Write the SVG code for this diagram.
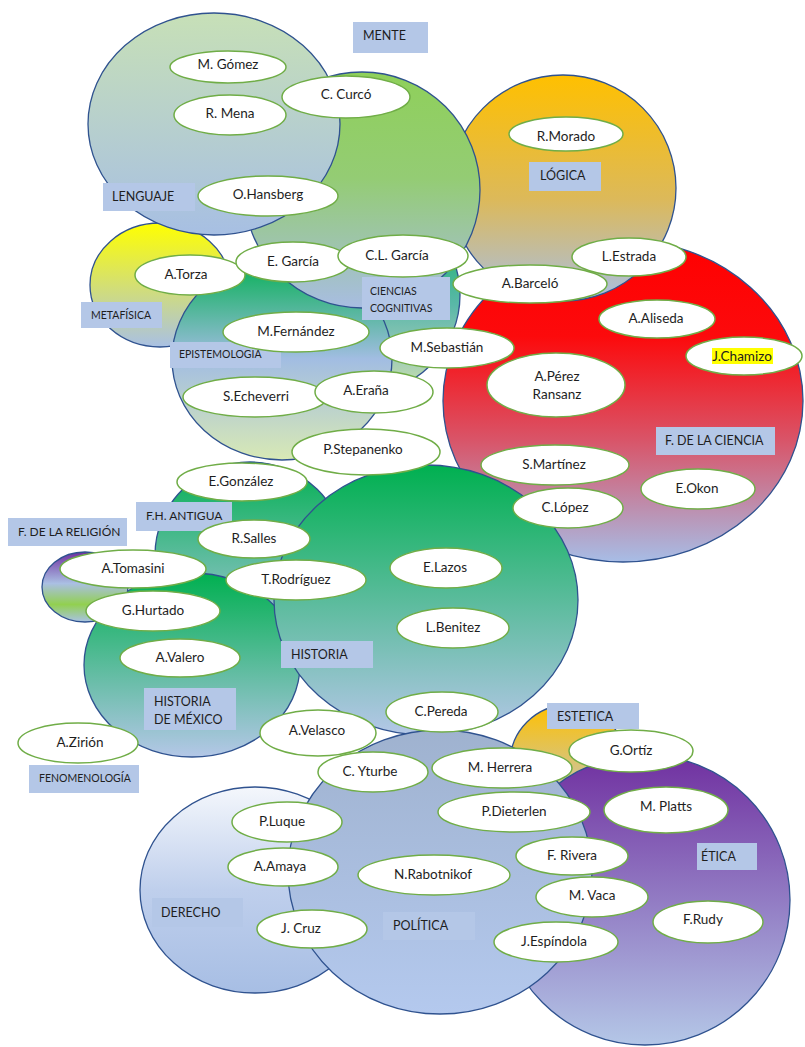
<svg xmlns="http://www.w3.org/2000/svg" width="805" height="1047" viewBox="0 0 805 1047">
<defs>
<linearGradient id="gLeng" x1="0" y1="0" x2="0" y2="1"><stop offset="0" stop-color="#c7e0b7"/><stop offset="1" stop-color="#a7bfe3"/></linearGradient>
<linearGradient id="gMente" x1="0" y1="0" x2="0" y2="1"><stop offset="0" stop-color="#8fd05a"/><stop offset="0.45" stop-color="#94cc74"/><stop offset="1" stop-color="#a8bde2"/></linearGradient>
<linearGradient id="gLog" x1="0" y1="0" x2="0" y2="1"><stop offset="0" stop-color="#ffc000"/><stop offset="0.55" stop-color="#dcb95a"/><stop offset="1" stop-color="#a9bfe2"/></linearGradient>
<linearGradient id="gCien" x1="0" y1="0" x2="0" y2="1"><stop offset="0" stop-color="#ff0000"/><stop offset="0.3" stop-color="#fc0a0c"/><stop offset="0.62" stop-color="#d95468"/><stop offset="1" stop-color="#a7bde6"/></linearGradient>
<linearGradient id="gMeta" x1="0" y1="0" x2="0" y2="1"><stop offset="0" stop-color="#ffff00"/><stop offset="1" stop-color="#a9c0e4"/></linearGradient>
<linearGradient id="gEpi" x1="0" y1="0" x2="0" y2="1"><stop offset="0" stop-color="#00b050"/><stop offset="0.5" stop-color="#a2bde2"/><stop offset="1" stop-color="#d8e9b5"/></linearGradient>
<linearGradient id="gCC" x1="0" y1="0" x2="0" y2="1"><stop offset="0" stop-color="#00b050"/><stop offset="0.55" stop-color="#5ab8a8"/><stop offset="0.8" stop-color="#9cc9b8"/><stop offset="1" stop-color="#cfe6a8"/></linearGradient>
<linearGradient id="gGB" x1="0" y1="0" x2="0" y2="1"><stop offset="0" stop-color="#00b050"/><stop offset="1" stop-color="#b4c7e7"/></linearGradient>
<linearGradient id="gRel" x1="0" y1="0" x2="0" y2="1"><stop offset="0" stop-color="#7030a0"/><stop offset="0.45" stop-color="#aabfe3"/><stop offset="0.75" stop-color="#92d050"/><stop offset="1" stop-color="#a9c2e6"/></linearGradient>
<linearGradient id="gEst" x1="0" y1="0" x2="0" y2="1"><stop offset="0" stop-color="#ffc000"/><stop offset="1" stop-color="#b4c7e7"/></linearGradient>
<linearGradient id="gEtica" x1="0" y1="0" x2="0" y2="1"><stop offset="0" stop-color="#7030a0"/><stop offset="1" stop-color="#b4c7e7"/></linearGradient>
<linearGradient id="gPol" x1="0" y1="0" x2="0" y2="1"><stop offset="0" stop-color="#9fb2cf"/><stop offset="1" stop-color="#b4c9ee"/></linearGradient>
<linearGradient id="gDer" x1="0" y1="0" x2="0" y2="1"><stop offset="0" stop-color="#f4f7fc"/><stop offset="0.5" stop-color="#bfcfec"/><stop offset="1" stop-color="#a7bee4"/></linearGradient>
<style>
.area{stroke:#2f528f;stroke-width:1.3}
.node ellipse{fill:#ffffff;stroke:#70ad47;stroke-width:1.5}
.nt{font-family:Lato,"Liberation Sans",sans-serif;font-size:13.5px;fill:#1e1e1e;text-anchor:middle}
.lab rect{fill:#b4c7e7}
.lt{font-family:Lato,"Liberation Sans",sans-serif;font-size:12.5px;fill:#1e1e1e}
.sm{font-size:10.5px}
.md{font-size:12px}
</style>
</defs>
<rect width="805" height="1047" fill="#ffffff"/>

<g id="areas">
  <ellipse id="a-cc" class="area" cx="358" cy="295" rx="102" ry="100" fill="url(#gCC)"/>
  <ellipse id="a-ciencia" class="area" cx="623" cy="401" rx="180" ry="161" fill="url(#gCien)"/>
  <ellipse id="a-logica" class="area" cx="563" cy="188" rx="113" ry="113" fill="url(#gLog)"/>
  <ellipse id="a-metafisica" class="area" cx="160" cy="285" rx="70" ry="62" fill="url(#gMeta)"/>
  <ellipse id="a-epistemologia" class="area" cx="282" cy="359" rx="110" ry="101" fill="url(#gEpi)"/>
  <ellipse id="a-mente" class="area" cx="362" cy="190" rx="118" ry="118" fill="url(#gMente)"/>
  <ellipse id="a-lenguaje" class="area" cx="214" cy="124" rx="126" ry="111" fill="url(#gLeng)"/>
  <ellipse id="a-fhantigua" class="area" cx="250" cy="555" rx="95" ry="93" fill="url(#gGB)"/>
  <ellipse id="a-hmexico" class="area" cx="192" cy="665" rx="108" ry="92" fill="url(#gGB)"/>
  <ellipse id="a-historia" class="area" cx="426" cy="600" rx="152" ry="135" fill="url(#gGB)"/>
  <ellipse id="a-religion" class="area" cx="85" cy="587" rx="43" ry="35" fill="url(#gRel)"/>
  <ellipse id="a-estetica" class="area" cx="568" cy="763" rx="58" ry="58" fill="url(#gEst)"/>
  <ellipse id="a-etica" class="area" cx="645" cy="900" rx="145" ry="145" fill="url(#gEtica)"/>
  <ellipse id="a-derecho" class="area" cx="255" cy="890" rx="115" ry="103" fill="url(#gDer)"/>
  <ellipse id="a-politica" class="area" cx="440" cy="872" rx="152" ry="142" fill="url(#gPol)"/>
</g>

<g id="labels">
  <g id="l-mente" class="lab"><rect x="353" y="22" width="75" height="31"/><text class="lt" x="363" y="40">MENTE</text></g>
  <g id="l-lenguaje" class="lab"><rect x="103" y="183" width="92" height="28"/><text class="lt" x="112" y="201">LENGUAJE</text></g>
  <g id="l-logica" class="lab"><rect x="529" y="162" width="72" height="29"/><text class="lt" x="540" y="180">LÓGICA</text></g>
  <g id="l-metafisica" class="lab"><rect x="81" y="302" width="81" height="26"/><text class="lt sm" x="91" y="319">METAFÍSICA</text></g>
  <g id="l-cc" class="lab"><rect x="362" y="277" width="88" height="43"/><text class="lt sm" x="370" y="295">CIENCIAS</text><text class="lt sm" x="370" y="312">COGNITIVAS</text></g>
  <g id="l-epistemologia" class="lab"><rect x="170" y="342" width="111" height="26"/><text class="lt sm" x="179" y="358">EPISTEMOLOGÍA</text></g>
  <g id="l-ciencia" class="lab"><rect x="656" y="427" width="119" height="28"/><text class="lt" x="665" y="445">F. DE LA CIENCIA</text></g>
  <g id="l-fhantigua" class="lab"><rect x="136" y="502" width="96" height="29"/><text class="lt md" x="146" y="520">F.H. ANTIGUA</text></g>
  <g id="l-religion" class="lab"><rect x="8" y="518" width="119" height="28"/><text class="lt md" x="18" y="536">F. DE LA RELIGIÓN</text></g>
  <g id="l-historia" class="lab"><rect x="281" y="641" width="92" height="27"/><text class="lt" x="291" y="659">HISTORIA</text></g>
  <g id="l-hmexico" class="lab"><rect x="144" y="688" width="92" height="42"/><text class="lt" x="154" y="706">HISTORIA</text><text class="lt" x="154" y="724">DE MÉXICO</text></g>
  <g id="l-fenomenologia" class="lab"><rect x="29" y="765" width="110" height="28"/><text class="lt sm" x="39" y="782">FENOMENOLOGÍA</text></g>
  <g id="l-estetica" class="lab"><rect x="547" y="703" width="92" height="26"/><text class="lt" x="557" y="721">ESTETICA</text></g>
  <g id="l-etica" class="lab"><rect x="697" y="843" width="60" height="27"/><text class="lt" x="701" y="861">ÉTICA</text></g>
  <g id="l-derecho" class="lab"><rect x="152" y="898" width="91" height="29"/><text class="lt" x="161" y="917">DERECHO</text></g>
  <g id="l-politica" class="lab"><rect x="383" y="912" width="92" height="28"/><text class="lt" x="393" y="930">POLÍTICA</text></g>
</g>

<g id="connectors"></g>

<g id="nodes">
  <g id="n-gomez" class="node"><ellipse cx="228" cy="67" rx="58" ry="16"/><text class="nt" x="228" y="69">M. Gómez</text></g>
  <g id="n-curco" class="node"><ellipse cx="346" cy="97" rx="64" ry="21"/><text class="nt" x="346" y="99">C. Curcó</text></g>
  <g id="n-mena" class="node"><ellipse cx="230" cy="115" rx="56" ry="20"/><text class="nt" x="230" y="118">R. Mena</text></g>
  <g id="n-hansberg" class="node"><ellipse cx="268" cy="196" rx="70" ry="20"/><text class="nt" x="268" y="199">O.Hansberg</text></g>
  <g id="n-morado" class="node"><ellipse cx="566" cy="134" rx="57" ry="17"/><text class="nt" x="566" y="141">R.Morado</text></g>
  <g id="n-barcelo" class="node"><ellipse cx="530" cy="284" rx="77" ry="19"/><text class="nt" x="530" y="288">A.Barceló</text></g>
  <g id="n-estrada" class="node"><ellipse cx="629" cy="257" rx="57" ry="19"/><text class="nt" x="629" y="261">L.Estrada</text></g>
  <g id="n-torza" class="node"><ellipse cx="190" cy="275" rx="55" ry="20"/><text class="nt" x="186" y="279">A.Torza</text></g>
  <g id="n-egarcia" class="node"><ellipse cx="293" cy="262" rx="57" ry="20"/><text class="nt" x="293" y="266">E. García</text></g>
  <g id="n-clgarcia" class="node"><ellipse cx="403" cy="256" rx="65" ry="21"/><text class="nt" x="397" y="260">C.L. García</text></g>
  <g id="n-fernandez" class="node"><ellipse cx="296" cy="332" rx="73" ry="20"/><text class="nt" x="296" y="336">M.Fernández</text></g>
  <g id="n-sebastian" class="node"><ellipse cx="447" cy="348" rx="67" ry="20"/><text class="nt" x="447" y="352">M.Sebastián</text></g>
  <g id="n-aliseda" class="node"><ellipse cx="657" cy="319" rx="58" ry="19"/><text class="nt" x="656" y="323">A.Aliseda</text></g>
  <g id="n-chamizo" class="node"><ellipse cx="744" cy="356" rx="58" ry="19"/><rect x="712" y="348" width="61" height="16" fill="#ffff00"/><text class="nt" x="742" y="361">J.Chamizo</text></g>
  <g id="n-perez" class="node"><ellipse cx="556" cy="385" rx="69" ry="32"/><text class="nt" x="557" y="381">A.Pérez</text><text class="nt" x="557" y="399">Ransanz</text></g>
  <g id="n-echeverri" class="node"><ellipse cx="255" cy="397" rx="72" ry="20"/><text class="nt" x="256" y="401">S.Echeverri</text></g>
  <g id="n-erana" class="node"><ellipse cx="374" cy="392" rx="59" ry="21"/><text class="nt" x="366" y="395">A.Eraña</text></g>
  <g id="n-stepanenko" class="node"><ellipse cx="366" cy="452" rx="74" ry="23"/><text class="nt" x="363" y="454">P.Stepanenko</text></g>
  <g id="n-martinez" class="node"><ellipse cx="555" cy="465" rx="74" ry="20"/><text class="nt" x="554" y="469">S.Martínez</text></g>
  <g id="n-okon" class="node"><ellipse cx="698" cy="489" rx="57" ry="20"/><text class="nt" x="697" y="493">E.Okon</text></g>
  <g id="n-lopez" class="node"><ellipse cx="568" cy="508" rx="55" ry="20"/><text class="nt" x="565" y="512">C.López</text></g>
  <g id="n-gonzalez" class="node"><ellipse cx="242" cy="482" rx="65" ry="19"/><text class="nt" x="241" y="486">E.González</text></g>
  <g id="n-salles" class="node"><ellipse cx="254" cy="539" rx="56" ry="19"/><text class="nt" x="254" y="543">R.Salles</text></g>
  <g id="n-tomasini" class="node"><ellipse cx="133" cy="569" rx="73" ry="19"/><text class="nt" x="133" y="573">A.Tomasini</text></g>
  <g id="n-rodriguez" class="node"><ellipse cx="296" cy="580" rx="70" ry="20"/><text class="nt" x="296" y="584">T.Rodríguez</text></g>
  <g id="n-lazos" class="node"><ellipse cx="446" cy="568" rx="56" ry="20"/><text class="nt" x="445" y="572">E.Lazos</text></g>
  <g id="n-hurtado" class="node"><ellipse cx="153" cy="611" rx="67" ry="20"/><text class="nt" x="153" y="615">G.Hurtado</text></g>
  <g id="n-benitez" class="node"><ellipse cx="453" cy="628" rx="56" ry="20"/><text class="nt" x="453" y="632">L.Benitez</text></g>
  <g id="n-valero" class="node"><ellipse cx="180" cy="658" rx="60" ry="19"/><text class="nt" x="180" y="662">A.Valero</text></g>
  <g id="n-pereda" class="node"><ellipse cx="442" cy="712" rx="56" ry="20"/><text class="nt" x="441" y="716">C.Pereda</text></g>
  <g id="n-velasco" class="node"><ellipse cx="318" cy="733" rx="58" ry="23"/><text class="nt" x="317" y="735">A.Velasco</text></g>
  <g id="n-zirion" class="node"><ellipse cx="78" cy="743" rx="60" ry="20"/><text class="nt" x="80" y="747">A.Zirión</text></g>
  <g id="n-yturbe" class="node"><ellipse cx="373" cy="772" rx="55" ry="20"/><text class="nt" x="370" y="776">C. Yturbe</text></g>
  <g id="n-herrera" class="node"><ellipse cx="502" cy="768" rx="70" ry="20"/><text class="nt" x="500" y="772">M. Herrera</text></g>
  <g id="n-ortiz" class="node"><ellipse cx="631" cy="751" rx="62" ry="21"/><text class="nt" x="631" y="755">G.Ortíz</text></g>
  <g id="n-dieterlen" class="node"><ellipse cx="514" cy="812" rx="76" ry="20"/><text class="nt" x="514" y="816">P.Dieterlen</text></g>
  <g id="n-platts" class="node"><ellipse cx="666" cy="810" rx="62" ry="23"/><text class="nt" x="666" y="811">M. Platts</text></g>
  <g id="n-luque" class="node"><ellipse cx="287" cy="822" rx="55" ry="20"/><text class="nt" x="282" y="826">P.Luque</text></g>
  <g id="n-rivera" class="node"><ellipse cx="572" cy="856" rx="56" ry="19"/><text class="nt" x="572" y="860">F. Rivera</text></g>
  <g id="n-amaya" class="node"><ellipse cx="283" cy="867" rx="55" ry="19"/><text class="nt" x="280" y="871">A.Amaya</text></g>
  <g id="n-rabotnikof" class="node"><ellipse cx="434" cy="875" rx="76" ry="20"/><text class="nt" x="433" y="879">N.Rabotnikof</text></g>
  <g id="n-vaca" class="node"><ellipse cx="592" cy="897" rx="56" ry="20"/><text class="nt" x="592" y="900">M. Vaca</text></g>
  <g id="n-rudy" class="node"><ellipse cx="708" cy="922" rx="55" ry="21"/><text class="nt" x="703" y="924">F.Rudy</text></g>
  <g id="n-cruz" class="node"><ellipse cx="312" cy="929" rx="55" ry="19"/><text class="nt" x="301" y="933">J. Cruz</text></g>
  <g id="n-espindola" class="node"><ellipse cx="556" cy="942" rx="62" ry="20"/><text class="nt" x="554" y="946">J.Espíndola</text></g>
</g>
</svg>
